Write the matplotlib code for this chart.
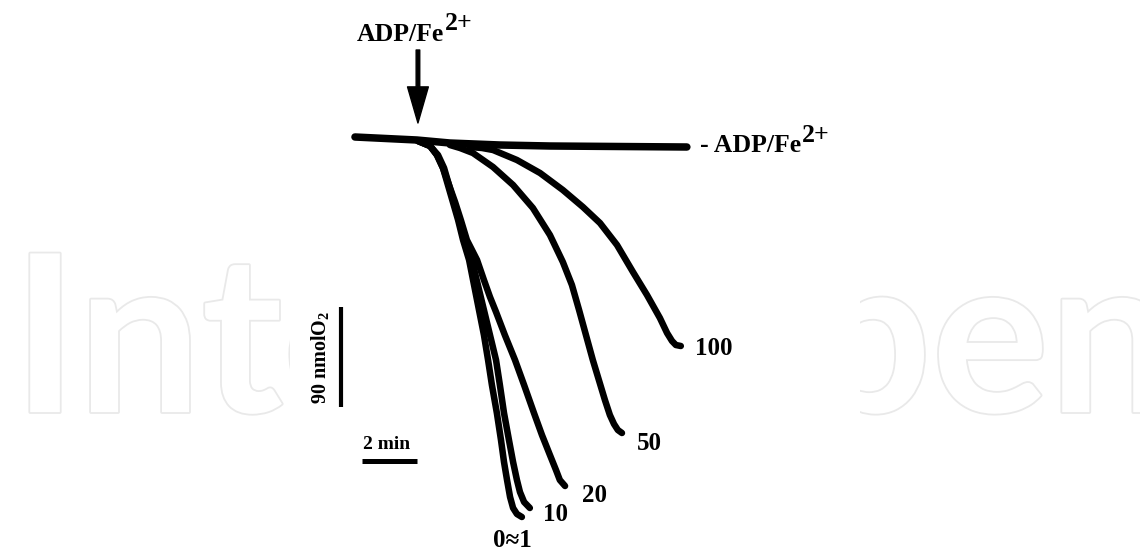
import matplotlib.pyplot as plt
import matplotlib.patheffects as pe
from matplotlib.patches import Rectangle

SERIF = "Liberation Serif"
plt.rcParams["mathtext.fontset"] = "custom"
plt.rcParams["mathtext.rm"] = SERIF
plt.rcParams["mathtext.bf"] = SERIF + ":bold"

# oxygen traces: time (min) and O2 change (nmol)
t_ctrl = [0.0, 2.25, 3.45, 5.27, 7.09, 12.07]
o2_ctrl = [0, -2.7, -5.4, -7.2, -8.1, -9.0]

t_0 = [2.29, 2.73, 2.98, 3.20, 3.38, 3.56, 3.75, 3.93, 4.15, 4.33, 4.51,
       4.69, 4.84, 4.98, 5.16, 5.31, 5.42, 5.53, 5.64, 5.75, 5.89, 6.07]
o2_0 = [-3.6, -8.1, -16.2, -27.9, -43.2, -58.5, -74.7, -92.7, -110.7, -133.2, -155.7,
        -178.2, -200.7, -223.2, -248.4, -272.7, -292.5, -308.7, -324.0, -333.9, -339.3, -342.0]

t_10 = [2.29, 2.73, 2.98, 3.20, 3.42, 3.60, 3.78, 4.00, 4.25, 4.47, 4.69,
        4.91, 5.13, 5.27, 5.42, 5.60, 5.75, 5.89, 6.00, 6.15, 6.36]
o2_10 = [-3.6, -8.1, -16.2, -27.9, -43.2, -58.5, -74.7, -92.7, -110.7, -133.2, -155.7,
         -178.2, -200.7, -223.2, -248.4, -272.7, -292.5, -308.7, -319.5, -328.5, -333.9]

t_20 = [2.29, 2.73, 3.02, 3.24, 3.42, 3.64, 3.85, 4.07, 4.44, 4.69, 4.91,
        5.13, 5.45, 5.82, 6.15, 6.51, 6.80, 7.09, 7.31, 7.45, 7.64]
o2_20 = [-3.6, -8.1, -16.2, -27.9, -43.2, -58.5, -74.7, -92.7, -110.7, -128.7, -144.0,
         -157.5, -178.2, -200.7, -223.2, -248.4, -268.2, -286.2, -299.7, -308.7, -314.1]

t_50 = [3.45, 3.82, 4.29, 5.02, 5.75, 6.47, 7.09, 7.56, 7.89, 8.15, 8.40,
        8.65, 8.87, 9.09, 9.27, 9.42, 9.56, 9.71]
o2_50 = [-7.2, -9.9, -14.4, -27.0, -43.2, -63.9, -88.2, -112.5, -133.2, -155.7, -178.2,
         -200.7, -218.7, -236.7, -250.2, -258.3, -263.7, -266.4]

t_100 = [4.18, 4.62, 5.02, 5.89, 6.73, 7.56, 8.29, 8.91, 9.53, 10.11, 10.62,
         11.09, 11.35, 11.53, 11.67, 11.85]
o2_100 = [-9.0, -9.9, -11.7, -20.7, -32.4, -47.7, -63.0, -77.4, -97.2, -121.5, -142.2,
          -162.9, -176.4, -183.6, -187.2, -188.1]

curve_labels = ["0\u22481", "10", "20", "50", "100"]
label_pos = [(5.02, -369), (6.84, -345.6), (8.25, -328.5), (10.25, -282), (12.36, -196)]

# scale bars
bar_min = 2      # minutes
bar_nmol = 90    # nmol O2

fig = plt.figure(figsize=(11.4, 5.48), dpi=100)
ax = fig.add_axes([0, 0, 1, 1])
ax.set_xlim(-12.91, 28.55)
ax.set_ylim(-369.9, 123.3)
ax.axis("off")

# faint publisher watermark behind the figure panel
ax.text(0.011, 0.248, "IntechOpen", transform=ax.transAxes, fontsize=158,
        family="Lato", weight="bold", color="white", ha="left", va="baseline",
        zorder=0, path_effects=[pe.withStroke(linewidth=2.6, foreground="#e9e9e9")])
ax.add_patch(Rectangle((0.254, 0), 0.5, 1, transform=ax.transAxes,
                       facecolor="white", edgecolor="none", zorder=1))

style = dict(color="black", solid_capstyle="round", solid_joinstyle="round", zorder=3)
ax.plot(t_ctrl, o2_ctrl, lw=5.4, **style)
for t, o in [(t_0, o2_0), (t_10, o2_10), (t_20, o2_20), (t_50, o2_50), (t_100, o2_100)]:
    ax.plot(t, o, lw=4.7, **style)

for lab, (x, y) in zip(curve_labels, label_pos):
    ax.text(x, y, lab, family=SERIF, weight="bold", fontsize=18,
            ha="left", va="baseline", zorder=4)


def ion_label(x, y, s):
    """bold label followed by a large raised 2+ charge"""
    txt = ax.text(x, y, s, family=SERIF, weight="bold", fontsize=18.5,
                  ha="left", va="baseline", zorder=4)
    ax.annotate("2+", xy=(1, 0), xycoords=txt, xytext=(0.5, 11),
                textcoords="offset points", family=SERIF, weight="bold",
                fontsize=18.5, ha="left", va="baseline", zorder=4)


# addition arrow
ax.annotate("", xy=(2.29, 12.6), xytext=(2.29, 78.3),
            arrowprops=dict(facecolor="black", edgecolor="black", width=2.6,
                            headwidth=15, headlength=26, shrink=0), zorder=4)
ion_label(0.07, 86.7, "ADP/Fe")
ion_label(12.55, -13.5, "- ADP/Fe")

# scale bars
ax.plot([-0.51, -0.51], [-153, -153 - bar_nmol], color="black", lw=3,
        solid_capstyle="butt", zorder=3)
ax.text(-1.24, -198, r"90 nmolO$_\mathbf{2}$", family=SERIF, weight="bold",
        fontsize=14.5, rotation=90, ha="center", va="center", zorder=4)
ax.plot([0.25, 0.25 + bar_min], [-291.6, -291.6], color="black", lw=3.6,
        solid_capstyle="butt", zorder=3)
ax.text(1.16, -280.8, "2 min", family=SERIF, weight="bold", fontsize=14,
        ha="center", va="baseline", zorder=4)

fig.savefig("out.png", dpi=100, facecolor="white")
